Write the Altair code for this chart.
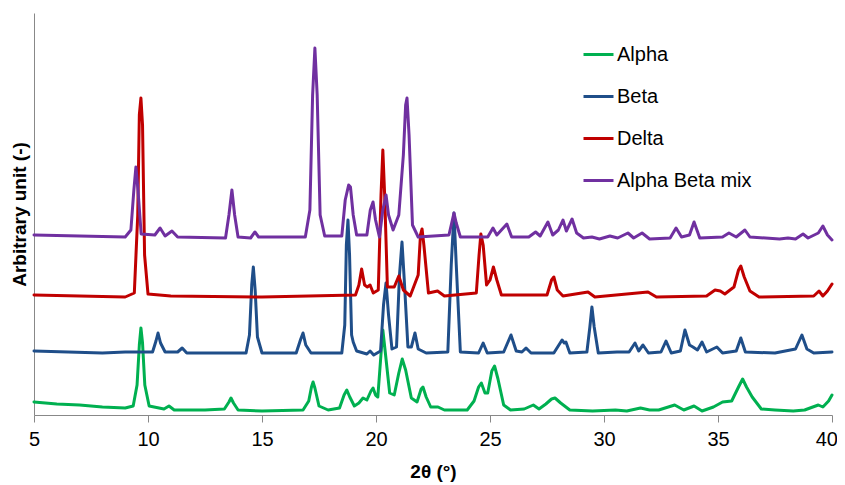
import altair as alt
import pandas as pd

SERIES = ["Alpha", "Beta", "Delta", "Alpha Beta mix"]
COLORS = ["#00B050", "#1F4E89", "#C00000", "#7030A0"]

ALPHA_X = [5.0, 6.0, 7.0, 8.0, 9.0, 9.35, 9.52, 9.62, 9.69, 9.76, 9.86, 10.05, 10.7, 10.92, 11.15, 12.5,
           13.35, 13.55, 13.64, 13.75, 13.95, 15.0, 16.8, 17.05, 17.17, 17.24, 17.32, 17.5, 17.9, 18.4,
           18.6, 18.72, 18.85, 19.05, 19.25, 19.43, 19.6, 19.78, 19.87, 19.98, 20.08, 20.2, 20.3, 20.42,
           20.6, 20.8, 21.0, 21.15, 21.3, 21.55, 21.8, 21.98, 22.06, 22.2, 22.4, 22.72, 23.0, 24.0, 24.3,
           24.5, 24.62, 24.78, 24.9, 25.08, 25.2, 25.35, 25.6, 25.9, 26.5, 26.9, 27.15, 27.45, 27.7, 27.85,
           28.1, 28.5, 29.5, 30.5, 31.0, 31.6, 32.0, 32.4, 33.1, 33.5, 33.95, 34.3, 34.8, 35.2, 35.6, 35.9,
           36.08, 36.25, 36.5, 36.9, 37.5, 38.3, 38.8, 39.4, 39.6, 39.85, 40.0]
ALPHA_Y = [13, 11, 10, 8, 7, 9, 30, 70, 87, 72, 30, 9, 6, 9, 5, 5,
           6, 13, 17, 12, 5, 4, 5, 14, 28, 33, 27, 9, 5, 7,
           20, 25, 18, 9, 12, 17, 15, 24, 27, 20, 18, 55, 85, 60,
           22, 20, 42, 56, 45, 17, 13, 26, 28, 18, 8, 8, 5, 5, 14,
           28, 32, 22, 22, 44, 49, 36, 10, 5, 6, 10, 6, 11, 16, 17,
           12, 5, 4, 5, 4, 7, 5, 5, 10, 5, 9, 4, 8, 13, 14, 28,
           36, 28, 18, 6, 5, 4, 5, 10, 8, 14, 20]

BETA_X = [5.0, 6.5, 8.0, 9.0, 10.2, 10.35, 10.44, 10.55, 10.75, 11.3, 11.5, 11.7, 13.0, 14.3, 14.45, 14.55,
          14.62, 14.7, 14.8, 15.0, 16.5, 16.7, 16.8, 16.92, 17.15, 18.5, 18.63, 18.7, 18.77, 18.84, 18.93,
          19.0, 19.15, 19.6, 19.74, 19.9, 20.2, 20.33, 20.44, 20.55, 20.7, 20.9, 21.03, 21.14, 21.24, 21.4,
          21.55, 21.71, 21.85, 22.2, 23.15, 23.3, 23.42, 23.52, 23.7, 24.5, 24.7, 24.88, 25.6, 25.92, 26.15,
          26.4, 26.58, 26.8, 27.8, 28.16, 28.26, 28.33, 28.5, 29.25, 29.38, 29.47, 29.57, 29.75, 30.57, 31.1,
          31.36, 31.52, 31.71, 31.95, 32.5, 32.72, 32.95, 33.35, 33.55, 33.75, 33.9, 34.1, 34.3, 34.5, 34.95,
          35.2, 35.8, 36.0, 36.2, 37.5, 38.4, 38.68, 38.9, 39.2, 40.0]
BETA_Y = [64, 63, 62, 63, 63, 74, 82, 72, 63, 63, 67, 62, 62, 62, 80, 130,
          148, 125, 78, 62, 62, 76, 82, 70, 62, 62, 90, 170, 195, 160, 80,
          73, 64, 61, 64, 60, 64, 110, 132, 100, 66, 68, 140, 173, 135, 68,
          68, 82, 66, 62, 63, 150, 202, 150, 63, 62, 72, 62, 63, 80, 64,
          63, 67, 62, 62, 75, 72, 73, 62, 63, 88, 108, 88, 62, 63, 63,
          72, 64, 70, 62, 63, 74, 62, 64, 85, 70, 68, 65, 73, 63, 68,
          62, 64, 77, 63, 62, 66, 80, 66, 62, 63]

DELTA_X = [5.0, 7.0, 9.0, 9.4, 9.55, 9.62, 9.69, 9.76, 9.85, 10.0, 11.0, 15.0, 19.1, 19.25, 19.37, 19.5,
           19.62, 19.74, 19.88, 20.1, 20.22, 20.3, 20.38, 20.5, 20.8, 21.0, 21.2, 21.5, 21.85, 21.95, 22.02,
           22.1, 22.3, 22.7, 23.0, 24.4, 24.52, 24.6, 24.7, 24.85, 25.0, 25.15, 25.3, 25.5, 27.5, 27.7, 27.8,
           27.95, 28.2, 29.3, 29.6, 31.93, 32.3, 34.5, 34.87, 35.1, 35.3, 35.7, 35.9, 36.0, 36.15, 36.4, 36.8,
           39.2, 39.43, 39.6, 39.8, 40.0]
DELTA_Y = [120, 119, 118, 122, 200, 300, 317, 290, 160, 121, 119, 118, 120, 130, 146, 130,
           128, 130, 122, 125, 220, 265, 220, 128, 128, 139, 125, 119, 140, 180, 186,
           170, 122, 124, 119, 122, 160, 181, 170, 130, 135, 148, 135, 120, 120, 135, 138,
           125, 119, 123, 118, 123, 118, 119, 125, 124, 121, 128, 145, 149, 138, 124, 118,
           119, 124, 119, 124, 131]

MIX_X = [5.0, 7.0, 9.0, 9.25, 9.38, 9.47, 9.56, 9.7, 10.3, 10.53, 10.75, 11.05, 11.3, 13.4, 13.55, 13.68,
         13.8, 13.95, 14.5, 14.69, 14.85, 16.9, 17.1, 17.22, 17.32, 17.42, 17.55, 17.75, 18.5, 18.65, 18.72,
         18.8, 18.88, 19.0, 19.15, 19.6, 19.75, 19.87, 19.98, 20.15, 20.3, 20.44, 20.55, 20.75, 21.0, 21.2,
         21.3, 21.36, 21.45, 21.6, 21.85, 23.2, 23.35, 23.42, 23.52, 23.7, 24.9, 25.13, 25.3, 25.74, 25.95,
         26.7, 27.0, 27.2, 27.54, 27.75, 28.0, 28.2, 28.35, 28.6, 28.8, 29.1, 29.47, 29.8, 30.26, 30.6,
         31.05, 31.3, 31.67, 32.0, 32.9, 33.16, 33.4, 33.75, 33.95, 34.2, 35.2, 35.48, 35.8, 36.18, 36.4,
         37.7, 38.07, 38.4, 38.73, 38.95, 39.4, 39.6, 39.8, 40.0]
MIX_Y = [180, 179, 178, 185, 225, 248, 225, 181, 180, 187, 179, 184, 178, 177, 200, 225,
         200, 178, 177, 183, 178, 178, 205, 320, 367, 320, 200, 179, 179, 215, 222,
         230, 228, 200, 180, 180, 205, 213, 195, 178, 205, 220, 200, 185, 200, 260,
         310, 317, 280, 190, 178, 180, 195, 202, 192, 178, 178, 187, 180, 191, 178,
         178, 183, 179, 193, 180, 185, 195, 184, 196, 182, 177, 178, 176, 179, 177,
         182, 177, 182, 176, 177, 187, 178, 180, 193, 177, 178, 182, 178, 185, 178,
         176, 177, 176, 181, 177, 182, 189, 180, 175]

X_TICKS = [5, 10, 15, 20, 25, 30, 35, 40]

rows = []
for name, xs, ys in [("Alpha", ALPHA_X, ALPHA_Y), ("Beta", BETA_X, BETA_Y),
                     ("Delta", DELTA_X, DELTA_Y), ("Alpha Beta mix", MIX_X, MIX_Y)]:
    for i, (x, y) in enumerate(zip(xs, ys)):
        rows.append({"series": name, "x": x, "y": y, "i": i})
df = pd.DataFrame(rows)

FONT = "Liberation Sans"

chart = alt.Chart(df).mark_line(strokeWidth=3, strokeJoin="round", strokeCap="round").encode(
    x=alt.X("x:Q", title="2θ (°)",
            scale=alt.Scale(domain=[5, 40], nice=False, zero=False),
            axis=alt.Axis(values=X_TICKS, grid=False, tickSize=7, tickColor="#888888",
                          domainColor="#888888", labelFontSize=20, labelFont=FONT, labelColor="#000000",
                          labelPadding=7, titleFontSize=19, titleFont=FONT, titleFontWeight="bold",
                          titleColor="#000000", titlePadding=13,
                          labelFlush=True, labelFlushOffset=5.5)),
    y=alt.Y("y:Q", title="Arbitrary unit (-)",
            scale=alt.Scale(domain=[0, 402], nice=False),
            axis=alt.Axis(labels=False, ticks=False, grid=False, domainColor="#888888",
                          titleFontSize=19, titleFont=FONT, titleFontWeight="bold",
                          titleColor="#000000", titlePadding=5)),
    color=alt.Color("series:N", scale=alt.Scale(domain=SERIES, range=COLORS), sort=SERIES,
                    legend=alt.Legend(title=None, orient="none", legendX=548, legendY=25,
                                      symbolType="stroke", symbolSize=900, symbolStrokeWidth=3,
                                      labelFontSize=20, labelFont=FONT, labelColor="#000000",
                                      labelOffset=2, rowPadding=15)),
    order="i:Q",
).properties(
    width=798, height=402,
    autosize=alt.AutoSizeParams(type="none"),
    padding={"left": 26, "top": 5, "right": 5, "bottom": 70},
).configure_view(stroke=None)

chart.save("out.html", embed_options={"renderer": "svg", "actions": False})
